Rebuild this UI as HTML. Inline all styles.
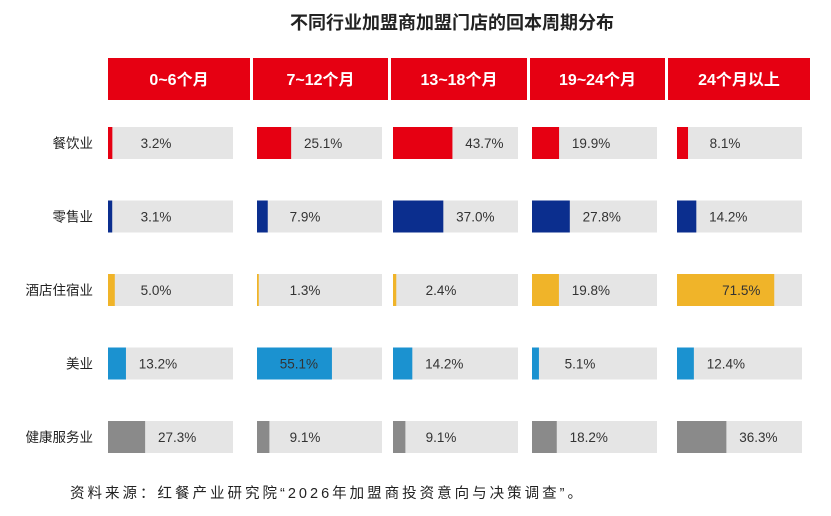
<!DOCTYPE html>
<html><head><meta charset="utf-8">
<style>
body{margin:0;background:#fff;width:831px;height:511px;overflow:hidden;font-family:"Liberation Sans","Noto Sans CJK SC",sans-serif;}
</style></head>
<body>
<svg id="c" width="831" height="511" xmlns="http://www.w3.org/2000/svg">
<text x="452" y="29" text-anchor="middle" font-size="18" font-weight="bold" fill="#222">不同行业加盟商加盟门店的回本周期分布</text>
<text x="70" y="498" font-size="14.5" fill="#222" textLength="512" lengthAdjust="spacing">资料来源：红餐产业研究院“2026年加盟商投资意向与决策调查”。</text>
<g id="g"></g>
</svg>
<script>
const periods=["0~6个月","7~12个月","13~18个月","19~24个月","24个月以上"];
const industries=["餐饮业","零售业","酒店住宿业","美业","健康服务业"];
const v0=[3.2,3.1,5.0,13.2,27.3];
const v1=[25.1,7.9,1.3,55.1,9.1];
const v2=[43.7,37.0,2.4,14.2,9.1];
const v3=[19.9,27.8,19.8,5.1,18.2];
const v4=[8.1,14.2,71.5,12.4,36.3];
const series=[v0,v1,v2,v3,v4];
const colors=["#e60012","#0b2e8e","#f0b429","#1b92d0","#8a8a8a"];
const NS="http://www.w3.org/2000/svg";
const g=document.getElementById("g");
function mk(t,a){const e=document.createElementNS(NS,t);for(const k in a)e.setAttribute(k,a[k]);g.appendChild(e);return e;}
const headL=[108,253,391,530,668],headW=[142,135,136,135,142];
const trackL=[108,257,393,532,677],trackW=125;
const rowY=i=>143+i*73.5;
const scale=x=>x*1.36;
periods.forEach((p,j)=>{
 const r=mk("rect",{x:headL[j],y:58,width:headW[j],height:42,fill:"#e60012"});
 
 
 const t=mk("text",{x:headL[j]+headW[j]/2,y:85,"text-anchor":"middle","font-size":"16","font-weight":"bold",fill:"#fff"});
 t.textContent=p;
 
 
});
industries.forEach((ind,i)=>{
 const y=rowY(i);
 const t=mk("text",{x:93,y:y+5,"text-anchor":"end","font-size":"13.5",fill:"#222"});
 t.textContent=ind;
 
 
 series.forEach((s,j)=>{
  const tr=mk("rect",{x:trackL[j],y:y-16,width:trackW,height:32,fill:"#e5e5e5"});
  
  
  const w=scale(s[i]);
  const b=mk("rect",{x:trackL[j],y:y-16,width:w,height:32,fill:colors[i]});
  
  
  const cx=Math.min(trackL[j]+trackW-25,Math.max(trackL[j]+48,trackL[j]+w+32));
  const l=mk("text",{x:(w>70?trackL[j]+w-33:cx),y:y+5,"text-anchor":"middle","font-size":"13.5",fill:"#333"});
  l.textContent=s[i].toFixed(1)+"%";
  
  
 });
});
</script>
</body></html>
